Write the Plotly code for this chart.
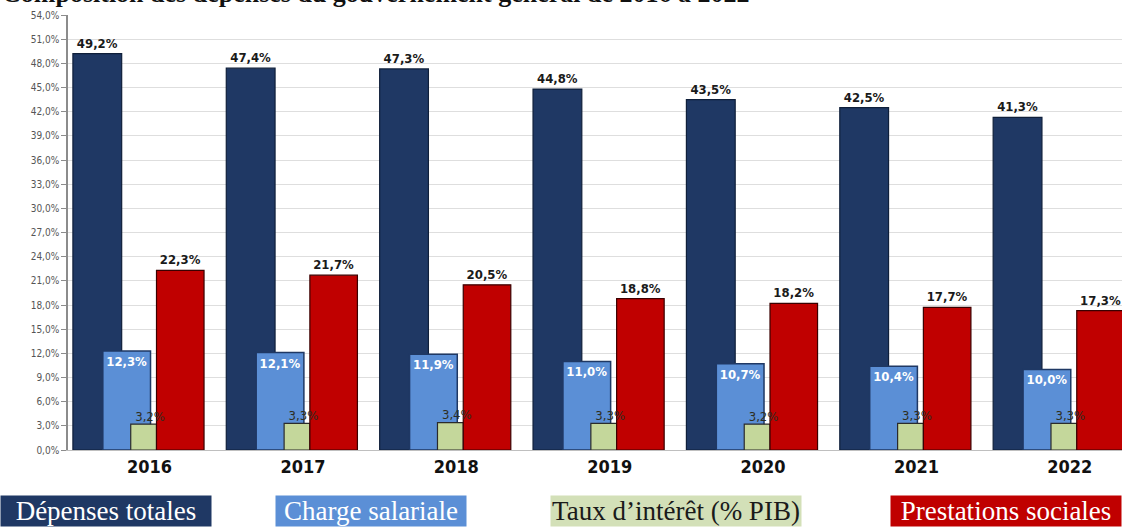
import plotly.graph_objects as go

years = [2016, 2017, 2018, 2019, 2020, 2021, 2022]
depenses_totales = [49.2, 47.4, 47.3, 44.8, 43.5, 42.5, 41.3]
charge_salariale = [12.3, 12.1, 11.9, 11.0, 10.7, 10.4, 10.0]
taux_interet = [3.2, 3.3, 3.4, 3.3, 3.2, 3.3, 3.3]
prestations_sociales = [22.3, 21.7, 20.5, 18.8, 18.2, 17.7, 17.3]

series_names = ["Dépenses totales", "Charge salariale", "Taux d\u2019intérêt (% PIB)", "Prestations sociales"]
y_ticks = [i * 3 for i in range(19)]
title_text = "Composition des dépenses du gouvernement général de 2016 à 2022"

def fmt(v):
    return f"{v:.1f}".replace(".", ",") + "%"

NAVY = "#1F3864"
LBLUE = "#5B8FD6"
GREEN = "#C4D79B"
RED = "#C00000"

W, H = 1122, 528
ML, MR, MT, MB = 68, 0, 15, 78
pw = W - ML - MR
ph = H - MT - MB

NARROW = "DejaVu Sans Condensed, Liberation Sans Narrow, Arial Narrow, DejaVu Sans, sans-serif"
label_font = dict(family=NARROW, size=13, color="#1a1a1a")

fig = go.Figure()

# (offset, width) in year units, relative to each year's position
geo = {
    "dep": (-0.50, 0.318),
    "sal": (-0.305, 0.311),
    "taux": (-0.123, 0.168),
    "prest": (0.045, 0.310),
}

fig.add_trace(go.Bar(
    x=years, y=depenses_totales, name=series_names[0],
    offset=geo["dep"][0], width=geo["dep"][1],
    marker=dict(color=NAVY, line=dict(color="#0f1f3a", width=1.2)),
    text=[fmt(v) for v in depenses_totales], textposition="outside",
    textfont=dict(label_font, weight="bold"), cliponaxis=False,
))
fig.add_trace(go.Bar(
    x=years, y=charge_salariale, name=series_names[1],
    offset=geo["sal"][0], width=geo["sal"][1],
    marker=dict(color=LBLUE, line=dict(color="#1F3864", width=1.5)),
    text=[fmt(v) for v in charge_salariale], textposition="inside",
    insidetextanchor="end",
    textfont=dict(family=NARROW, size=13, color="white", weight="bold"),
))
fig.add_trace(go.Bar(
    x=years, y=taux_interet, name=series_names[2],
    offset=geo["taux"][0], width=geo["taux"][1],
    marker=dict(color=GREEN, line=dict(color="#2b2b2b", width=1.2)),
))
fig.add_trace(go.Bar(
    x=years, y=prestations_sociales, name=series_names[3],
    offset=geo["prest"][0], width=geo["prest"][1],
    marker=dict(color=RED, line=dict(color="#3a0000", width=1.2)),
    text=[fmt(v) for v in prestations_sociales], textposition="outside",
    textfont=dict(label_font, weight="bold"),
))
# green labels on top of all bars
fig.add_trace(go.Scatter(
    x=[y + geo["taux"][0] + geo["taux"][1] * 0.75 for y in years],
    y=taux_interet, mode="text",
    text=[fmt(v) for v in taux_interet], textposition="top center",
    textfont=dict(family=NARROW, size=13, color="#2e2e22"),
    showlegend=False, hoverinfo="skip",
))

def px_to_paper_x(px):
    return (px - ML) / pw

def px_to_paper_y(py):
    return (H - MB - py) / ph

annotations = []
legend_items = [
    (series_names[0], NAVY, "white", 0, 210),
    (series_names[1], LBLUE, "white", 275, 190),
    (series_names[2], "#D3E0B8", "#1a1a1a", 550, 250),
    (series_names[3], RED, "white", 890, 230),
]
for txt, bg, fc, left, wbox in legend_items:
    annotations.append(dict(
        text=txt, xref="paper", yref="paper",
        x=px_to_paper_x(left), y=px_to_paper_y(511),
        xanchor="left", yanchor="middle", showarrow=False,
        width=wbox, height=30, align="center", valign="middle",
        bgcolor=bg, borderpad=0,
        font=dict(family="Liberation Serif, Times New Roman, serif", size=27, color=fc),
    ))

annotations.append(dict(
    text="<b>" + title_text + "</b>", xref="paper", yref="paper",
    x=px_to_paper_x(0), y=px_to_paper_y(10), xanchor="left", yanchor="bottom",
    showarrow=False,
    font=dict(family="Liberation Serif, Times New Roman, serif", size=26, color="#111111"),
))

fig.update_layout(
    width=W, height=H,
    margin=dict(l=ML, r=MR, t=MT, b=MB, autoexpand=False),
    barmode="overlay",
    paper_bgcolor="white", plot_bgcolor="white",
    showlegend=False,
    annotations=annotations,
    xaxis=dict(
        range=[2015.468, 2022.34],
        tickvals=years, ticktext=[str(y) for y in years],
        tickfont=dict(family=NARROW, size=18, color="#111111", weight="bold"),
        showgrid=False, zeroline=False, automargin=False,
        showline=True, linecolor="#bfbfbf", linewidth=1, ticks="",
    ),
    yaxis=dict(
        range=[0, 54], automargin=False,
        tickvals=y_ticks, ticktext=[f"{v},0%" for v in y_ticks],
        tickfont=dict(family=NARROW, size=10, color="#555555"),
        showgrid=True, gridcolor="#dedede", gridwidth=1,
        showline=True, linecolor="#8c8c8c", linewidth=1.5,
        ticks="outside", ticklen=5, tickcolor="#8c8c8c",
        zeroline=False,
    ),
)

fig.write_html("out.html", config={"displayModeBar": False},
               post_script="document.body.style.margin='0px';document.body.style.overflow='hidden';")
